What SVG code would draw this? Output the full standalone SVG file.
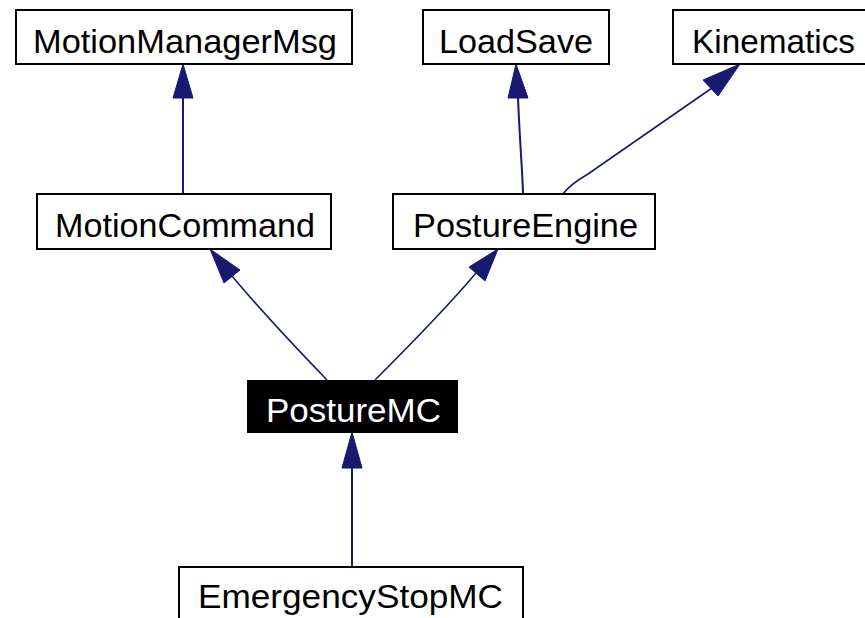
<svg xmlns="http://www.w3.org/2000/svg" width="865" height="618" viewBox="0 0 865 618">
<style>
.box{fill:#ffffff;stroke:#000000;stroke-width:2}
.sel{fill:#000000;stroke:#000000;stroke-width:2}
.lbl{font-family:"Liberation Sans",Arial,sans-serif;font-size:33px;fill:#000000}
.lblw{font-family:"Liberation Sans",Arial,sans-serif;font-size:33px;fill:#ffffff}
.edge{fill:none;stroke:#191970;stroke-width:2}
.diag{fill:none;stroke:#191970;stroke-width:1.6}
.head{fill:#191970;stroke:#191970;stroke-width:1}
</style>
<rect width="865" height="618" fill="#ffffff"/>
<g id="connectors">
  <path class="edge" d="M183,194 L183,96"/>
  <polygon class="head" points="183,64 193,98 173,98"/>
  <path class="edge" d="M523,194 C523,180 519,130 518,96"/>
  <polygon class="head" points="516,64 528,98 508,98"/>
  <path class="diag" d="M563,194 C568,187 576,181 588,174 L712,88"/>
  <polygon class="head" points="740,64 718,96 703,80"/>
  <path class="diag" d="M327,380 C300,352 262,312 232,276"/>
  <polygon class="head" points="210,249 240,270 224,283"/>
  <path class="diag" d="M375,380 C405,350 445,310 476,273"/>
  <polygon class="head" points="498,249 485,281 469,267"/>
  <path class="edge" d="M352,566 L352,466"/>
  <polygon class="head" points="352,432 362,468 342,468"/>
</g>
<g id="MotionManagerMsg">
  <rect class="box" x="16" y="10" width="336" height="54"/>
  <text class="lbl" x="33" y="53" textLength="304" lengthAdjust="spacingAndGlyphs">MotionManagerMsg</text>
</g>
<g id="LoadSave">
  <rect class="box" x="423" y="10" width="186" height="54"/>
  <text class="lbl" x="439" y="53" textLength="154" lengthAdjust="spacingAndGlyphs">LoadSave</text>
</g>
<g id="Kinematics">
  <rect class="box" x="673" y="10" width="200" height="54"/>
  <text class="lbl" x="692" y="53" textLength="163" lengthAdjust="spacingAndGlyphs">Kinematics</text>
</g>
<g id="MotionCommand">
  <rect class="box" x="37" y="194" width="294" height="55"/>
  <text class="lbl" x="55" y="237" textLength="260" lengthAdjust="spacingAndGlyphs">MotionCommand</text>
</g>
<g id="PostureEngine">
  <rect class="box" x="393" y="194" width="262" height="55"/>
  <text class="lbl" x="413" y="237" textLength="225" lengthAdjust="spacingAndGlyphs">PostureEngine</text>
</g>
<g id="PostureMC">
  <rect class="sel" x="248" y="381" width="209" height="51"/>
  <text class="lblw" x="266" y="422" textLength="175" lengthAdjust="spacingAndGlyphs">PostureMC</text>
</g>
<g id="EmergencyStopMC">
  <rect class="box" x="179" y="567" width="344" height="60"/>
  <text class="lbl" x="198" y="608" textLength="305" lengthAdjust="spacingAndGlyphs">EmergencyStopMC</text>
</g>
</svg>
